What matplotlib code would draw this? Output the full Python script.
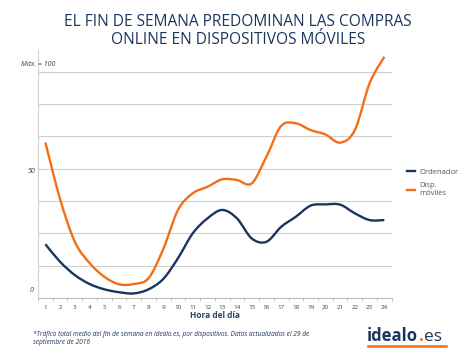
import numpy as np
import matplotlib
matplotlib.use("Agg")
from matplotlib import pyplot as plt
from matplotlib.path import Path
from matplotlib.patches import PathPatch
from matplotlib.lines import Line2D

hours = list(range(1, 25))
ordenador = [22.3, 15.0, 9.5, 5.8, 3.6, 2.4, 1.9, 3.6, 7.9, 16.5, 26.8, 33.0,
             36.5, 33.0, 24.7, 23.3, 29.5, 33.7, 38.3, 38.8, 38.7, 35.1, 32.3, 32.3]
moviles = [64.5, 41.0, 23.3, 14.5, 8.8, 5.7, 5.8, 8.2, 20.3, 36.5, 43.4, 46.1,
           49.2, 48.9, 47.5, 58.6, 71.3, 72.4, 69.6, 67.8, 64.4, 69.6, 89.0, 100.0]
series_names = ["Ordenador", "Disp.\nmóviles"]

NAVY = "#1b365d"
ORANGE = "#f36f16"
GRID = "#d0d0d0"
TXT = "#2a4466"

plt.rcParams['font.family'] = ['Open Sans', 'DejaVu Sans']


def smooth_path(x, y):
    # bezier through the points (catmull-rom style, like excel smoothed lines)
    x = np.asarray(x, float)
    y = np.asarray(y, float)
    verts = [(x[0], y[0])]
    codes = [Path.MOVETO]
    n = len(x)
    for i in range(n - 1):
        p0 = (x[max(i - 1, 0)], y[max(i - 1, 0)])
        p1 = (x[i], y[i])
        p2 = (x[i + 1], y[i + 1])
        p3 = (x[min(i + 2, n - 1)], y[min(i + 2, n - 1)])
        c1 = (p1[0] + (p2[0] - p0[0]) / 6, p1[1] + (p2[1] - p0[1]) / 6)
        c2 = (p2[0] - (p3[0] - p1[0]) / 6, p2[1] - (p3[1] - p1[1]) / 6)
        verts += [c1, c2, p2]
        codes += [Path.CURVE4] * 3
    return Path(verts, codes)


fig = plt.figure(figsize=(4.68, 3.6), dpi=100)
ax = fig.add_axes([38 / 468, 1 - 298 / 360, (391.7 - 38) / 468, 248 / 360])
ax.set_xlim(0.5, 24.5)
ax.set_ylim(0, 102.8)

for k in range(1, 8):
    ax.axhline(13.4 * k, color=GRID, lw=0.8, zorder=1)

for vals, col in [(ordenador, NAVY), (moviles, ORANGE)]:
    ax.add_patch(PathPatch(smooth_path(hours, vals), fill=False, edgecolor=col,
                           lw=1.7, capstyle='butt', zorder=3))

for s in ['top', 'right']:
    ax.spines[s].set_visible(False)
ax.spines['left'].set_color(GRID)
ax.spines['bottom'].set_color("#bbbbbb")
ax.spines['bottom'].set_linewidth(0.8)

ax.set_xticks(hours)
ax.set_xticklabels([str(h) for h in hours], fontsize=4.5, color=TXT)
ax.set_xticks(np.arange(0.5, 25, 1), minor=True)
ax.tick_params(axis='x', which='major', length=0, pad=5)
ax.tick_params(axis='x', which='minor', length=2.5, color="#bbbbbb", width=0.6)
ax.set_yticks([])

fig.text(21 / 468, 1 - 64 / 360, "Máx. = 100", ha='left', va='center',
         fontsize=5, style='italic', color=TXT)
ax.text(-0.008, 0.51, "50", transform=ax.transAxes, ha='right', va='center',
        fontsize=5, style='italic', color=TXT)
ax.text(-0.013, 0.032, "0", transform=ax.transAxes, ha='right', va='center',
        fontsize=5, style='italic', color=TXT)

ax.set_xlabel("Hora del día", fontsize=6, fontweight='bold', color=TXT, labelpad=1)

handles = [Line2D([], [], color=NAVY, lw=1.7), Line2D([], [], color=ORANGE, lw=1.7)]
fig.legend(handles, series_names, loc='upper left', bbox_to_anchor=(0.855, 0.552),
           frameon=False, fontsize=5.5, handlelength=1.0, handletextpad=0.6,
           labelspacing=0.9, labelcolor="#555555")

fig.text(0.508, 1 - 31 / 360, "EL FIN DE SEMANA PREDOMINAN LAS COMPRAS\nONLINE EN DISPOSITIVOS MÓVILES",
         ha='center', va='center', fontsize=11.2, color=NAVY, linespacing=1.2)

fig.text(33 / 468, 1 - 338.5 / 360,
         "*Tráfico total medio del fin de semana en idealo.es, por dispositivos. Datos actualizados el 29 de\nseptiembre de 2016",
         ha='left', va='center', fontsize=4.7, style='italic', color=NAVY, linespacing=1.2)

# logo
fig.text(367 / 468, 1 - 341 / 360, "idealo", ha='left', va='baseline', fontsize=12,
         fontweight='bold', color=NAVY, family='Open Sans')
fig.text(418.5 / 468, 1 - 341 / 360, ".", ha='left', va='baseline', fontsize=12,
         fontweight='bold', color=ORANGE, family='Open Sans')
fig.text(424 / 468, 1 - 341 / 360, "es", ha='left', va='baseline', fontsize=12.5,
         color=NAVY, family='Open Sans')
fig.add_artist(Line2D([368 / 468, 446 / 468], [1 - 346 / 360] * 2, color=ORANGE, lw=1.8))

plt.savefig("out.png", dpi=100)
